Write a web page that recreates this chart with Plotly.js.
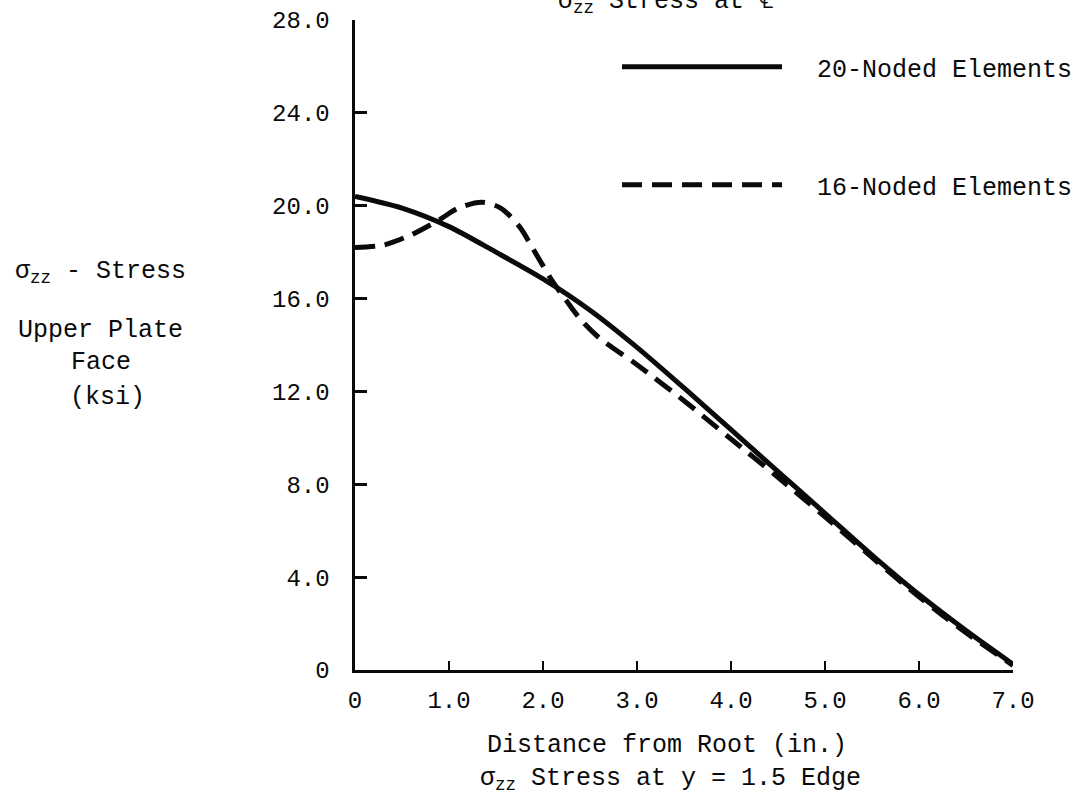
<!DOCTYPE html>
<html>
<head>
<meta charset="utf-8">
<script src="https://cdn.plot.ly/plotly-3.0.1.min.js"></script>
<style>html,body{margin:0;padding:0;background:#fff;}#chart{width:1090px;height:795px;}</style>
</head>
<body>
<div id="chart"></div>
<script>
// Data
var xSolid = [0, 0.5, 1.0, 1.5, 2.0, 2.5, 3.0, 3.5, 4.0, 4.5, 5.0, 5.5, 6.0, 6.5, 7.0];
var ySolid = [20.4, 19.9, 19.1, 18.0, 16.85, 15.5, 13.9, 12.15, 10.35, 8.55, 6.75, 4.95, 3.25, 1.7, 0.25];

var xDash = [0, 0.3, 0.6, 0.9, 1.1, 1.35, 1.55, 1.75, 1.9, 2.1, 2.25, 2.4, 2.6, 3.0, 3.5, 4.0, 4.5, 5.0, 5.5, 6.0, 6.5, 7.0];
var yDash = [18.2, 18.3, 18.75, 19.4, 19.9, 20.15, 19.9, 19.1, 18.1, 16.75, 15.9, 15.1, 14.3, 13.15, 11.6, 9.95, 8.3, 6.6, 4.85, 3.15, 1.6, 0.2];

var seriesNames = ['20-Noded Elements', '16-Noded Elements'];

var xTickVals = [0, 1, 2, 3, 4, 5, 6, 7];
var xTickText = ['0', '1.0', '2.0', '3.0', '4.0', '5.0', '6.0', '7.0'];
var yTickVals = [0, 4, 8, 12, 16, 20, 24, 28];
var yTickText = ['0', '4.0', '8.0', '12.0', '16.0', '20.0', '24.0', '28.0'];

var chartTitle = '\u03c3<sub>zz</sub> Stress at \u2104';
var yTitleLines = ['\u03c3<sub>zz</sub> - Stress', 'Upper Plate', 'Face', '(ksi)'];
var xTitleLines = ['Distance from Root (in.)', '\u03c3<sub>zz</sub> Stress at y = 1.5 Edge'];

// layout geometry
var W = 1090, H = 795;
var M = {l: 355, r: 77, t: 20, b: 125};
var PW = W - M.l - M.r, PH = H - M.t - M.b;
function px(x) { return (x - M.l) / PW; }
function py(y) { return (H - M.b - y) / PH; }

var FONT = '"Liberation Mono", "DejaVu Sans Mono", monospace';
var INK = '#0a0a0a';
var PAD = '\u00a0\u00a0';

var traces = [
  {
    x: xSolid, y: ySolid, mode: 'lines', name: PAD + seriesNames[0],
    line: {color: INK, width: 5, shape: 'spline', smoothing: 0.8},
    legend: 'legend', hoverinfo: 'skip'
  },
  {
    x: xDash, y: yDash, mode: 'lines', name: PAD + seriesNames[1],
    line: {color: INK, width: 5, dash: '20px,10px', shape: 'spline', smoothing: 0.8},
    legend: 'legend2', hoverinfo: 'skip'
  }
];

function ann(text, cx, cy, size) {
  return {
    text: text, xref: 'paper', yref: 'paper', x: px(cx), y: py(cy),
    xanchor: 'center', yanchor: 'middle', showarrow: false,
    font: {family: FONT, size: size || 25, color: INK}
  };
}

var legendBase = {
  xanchor: 'left', yanchor: 'middle', x: px(617),
  bgcolor: 'rgba(0,0,0,0)', borderwidth: 0, itemwidth: 160,
  font: {family: FONT, size: 25, color: INK}
};

var layout = {
  width: W, height: H,
  margin: M,
  paper_bgcolor: '#ffffff', plot_bgcolor: '#ffffff',
  showlegend: true,
  legend: Object.assign({}, legendBase, {y: py(67)}),
  legend2: Object.assign({}, legendBase, {y: py(185)}),
  xaxis: {
    range: [0, 7], showgrid: false, zeroline: false,
    showline: true, linecolor: INK, linewidth: 3,
    ticks: 'inside', ticklen: 9, tickwidth: 2.5, tickcolor: INK,
    tickmode: 'array', tickvals: xTickVals, ticktext: xTickText,
    tickfont: {family: FONT, size: 24, color: INK},
    ticklabelstandoff: 6
  },
  yaxis: {
    range: [0, 28], showgrid: false, zeroline: false,
    showline: true, linecolor: INK, linewidth: 3.5,
    ticks: 'inside', ticklen: 12, tickwidth: 3, tickcolor: INK,
    tickmode: 'array', tickvals: yTickVals, ticktext: yTickText,
    tickfont: {family: FONT, size: 24, color: INK},
    ticklabelstandoff: 17
  },
  annotations: [
    ann(chartTitle, 665, 3, 25),
    ann(yTitleLines[0], 100, 272, 25),
    ann(yTitleLines[1], 101, 330, 25),
    ann(yTitleLines[2], 101, 362, 25),
    ann(yTitleLines[3], 107, 397, 25),
    ann(xTitleLines[0], 667, 745, 25),
    ann(xTitleLines[1], 670, 779, 25)
  ]
};

Plotly.newPlot('chart', traces, layout, {displayModeBar: false, staticPlot: true});
</script>
</body>
</html>
